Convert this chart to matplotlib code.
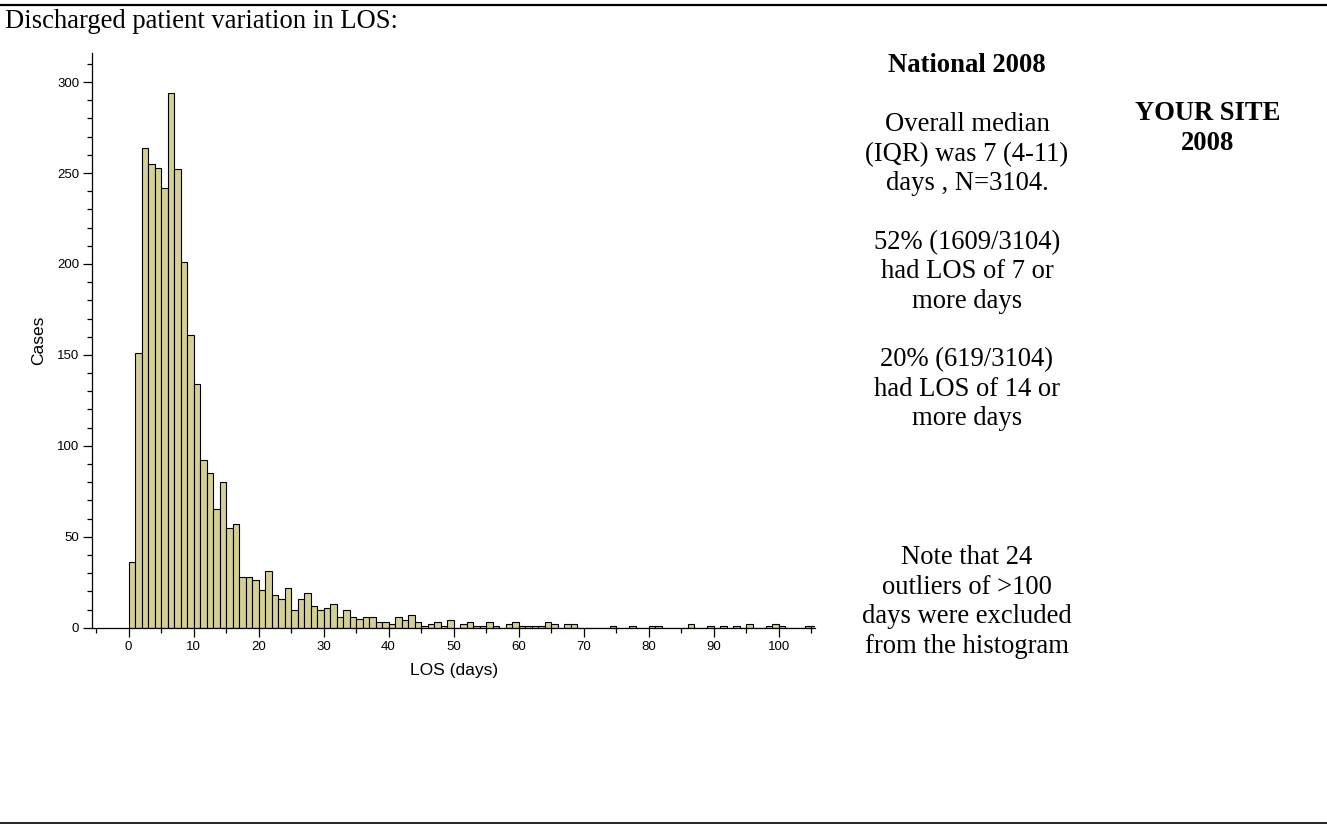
import numpy as np
import matplotlib
matplotlib.use("Agg")
import matplotlib.pyplot as plt
from matplotlib.lines import Line2D
from matplotlib.ticker import MultipleLocator

# Discharged patients per length-of-stay day (bins of 1 day, 0..105)
los_counts = [
    36, 151, 264, 255, 253, 242, 294, 252, 201, 161,
    134, 92, 85, 65, 80, 55, 57, 28, 28, 26,
    21, 31, 18, 16, 22, 10, 16, 19, 12, 10,
    11, 13, 6, 10, 6, 5, 6, 6, 3, 3,
    2, 6, 4, 7, 3, 1, 2, 3, 1, 4,
    0, 2, 3, 1, 1, 3, 1, 0, 2, 3,
    1, 1, 1, 1, 3, 2, 0, 2, 2, 0,
    0, 0, 0, 0, 1, 0, 0, 1, 0, 0,
    1, 1, 0, 0, 0, 0, 2, 0, 0, 1,
    0, 1, 0, 1, 0, 2, 0, 0, 1, 2,
    1, 0, 0, 0, 1, 1,
]
x_ticks = [0, 10, 20, 30, 40, 50, 60, 70, 80, 90, 100]
y_ticks = [0, 50, 100, 150, 200, 250, 300]

heading = "Discharged patient variation in LOS:"
national_title = "National 2008"
site_title = ["YOUR SITE", "2008"]
summary_lines = ["Overall median", "(IQR) was 7 (4-11)", "days , N=3104."]
over7_lines = ["52% (1609/3104)", "had LOS of 7 or", "more days"]
over14_lines = ["20% (619/3104)", "had LOS of 14 or", "more days"]
note_lines = ["Note that 24", "outliers of >100", "days were excluded", "from the histogram"]

W, H = 1327, 825
fig = plt.figure(figsize=(W / 100, H / 100), dpi=100)
fig.patch.set_facecolor("white")

SERIF = ["Liberation Serif", "DejaVu Serif"]
SANS = ["Liberation Sans", "DejaVu Sans"]
DOC_PT = 19.2      # body text size
LINE = 29.4        # body line pitch in pixels


def px(x, y):
    return x / W, 1 - y / H


# page rules
fig.add_artist(Line2D([0, 1], [1 - 5 / H, 1 - 5 / H], color="black", lw=1.6))
fig.add_artist(Line2D([0, 1], [1 - 823 / H, 1 - 823 / H], color="black", lw=1.2))

fig.text(*px(5, 22), heading, family=SERIF, fontsize=DOC_PT, ha="left", va="center")

# histogram axes
left, right, top, bottom = 92.3, 815.0, 53.0, 627.7
ax = fig.add_axes([left / W, 1 - bottom / H, (right - left) / W, (bottom - top) / H])
days = np.arange(len(los_counts))
ax.bar(days, los_counts, width=1.0, align="edge", color="#d3ce9a",
       edgecolor="black", linewidth=0.8)
ax.set_xlim(-5.57, 105.6)
ax.set_ylim(0, 316)
for s in ("top", "right"):
    ax.spines[s].set_visible(False)
for s in ("left", "bottom"):
    ax.spines[s].set_linewidth(0.9)
ax.set_xticks(x_ticks)
ax.set_yticks(y_ticks)
ax.xaxis.set_minor_locator(MultipleLocator(5))
ax.yaxis.set_minor_locator(MultipleLocator(10))
ax.tick_params(which="major", direction="out", length=6.5, width=0.9,
               labelsize=9.5, pad=3)
ax.tick_params(which="minor", direction="out", length=3.3, width=0.9)
for lab in ax.get_xticklabels() + ax.get_yticklabels():
    lab.set_family(SANS)
ax.set_xlabel("LOS (days)", family=SANS, fontsize=12.5, labelpad=7)
ax.set_ylabel("Cases", family=SANS, fontsize=12.5)
ax.yaxis.set_label_coords(-0.064, 0.5)

# national summary text
CX = 967
fig.text(*px(CX, 66), national_title, family=SERIF, fontsize=DOC_PT, weight="bold",
         ha="center", va="center")
y_first = 66 + 2 * LINE
for block, y0 in ((summary_lines, y_first),
                  (over7_lines, y_first + 4 * LINE),
                  (over14_lines, y_first + 8 * LINE),
                  (note_lines, 558)):
    for i, line in enumerate(block):
        fig.text(*px(CX, y0 + LINE * i), line, family=SERIF, fontsize=DOC_PT,
                 ha="center", va="center")

for i, line in enumerate(site_title):
    fig.text(*px(1208, 114 + LINE * i), line, family=SERIF, fontsize=DOC_PT,
             weight="bold", ha="center", va="center")

fig.savefig("out.png", dpi=100)
